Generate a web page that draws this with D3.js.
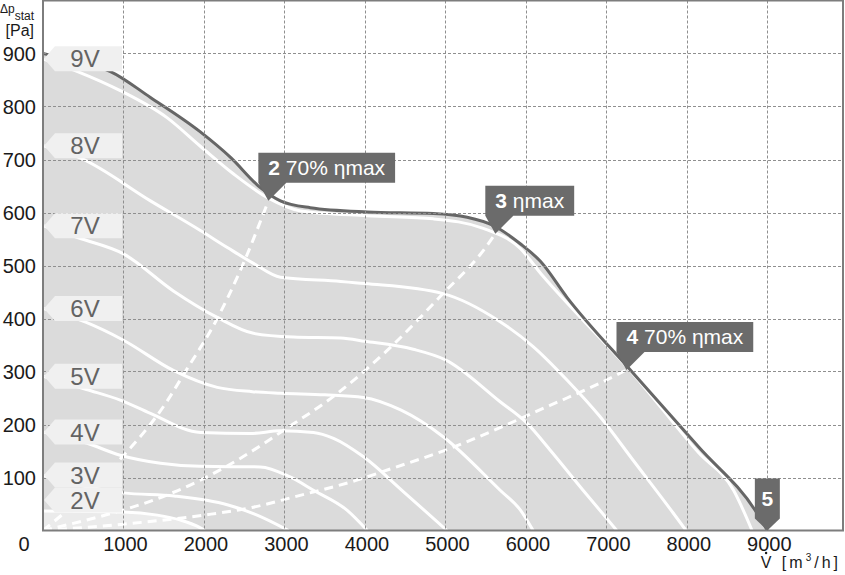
<!DOCTYPE html>
<html><head><meta charset="utf-8">
<script src="https://cdn.jsdelivr.net/npm/d3@7"></script>
<style>
html,body{margin:0;padding:0;background:#fff;}
svg{display:block;font-family:"Liberation Sans",Arial,sans-serif;}
</style></head><body>
<svg id="chart" width="845" height="575"></svg>
<script>
// ---------- data ----------
const xTicks = [1000,2000,3000,4000,5000,6000,7000,8000,9000];
const yTicks = [100,200,300,400,500,600,700,800,900];
const speedNames = ["9V","8V","7V","6V","5V","4V","3V","2V"];

const curve9V = [[0,890],[430,866],[960,830],[1540,779],[1955,725],[2365,673],[2790,628],[3200,603],[4030,594],[4850,588],[5470,570],[5930,532],[6200,482],[6630,410],[7290,303],[8150,146],[8580,76],[8810,0]];
const curve8V = [[0,726],[460,703],[1335,622],[1955,566],[2290,534],[2615,504],[2950,478],[3700,470],[4000,466],[4970,447],[5680,394],[6090,347],[6510,284],[6920,215],[7330,133],[7830,33],[7990,0]];
const curve7V = [[0,575],[465,551],[1000,522],[1620,452],[2165,402],[2615,372],[3110,365],[3700,363],[4000,357],[4600,342],[5000,322],[5680,243],[6010,203],[6300,152],[6710,76],[7130,0]];
const curve6V = [[0,419],[530,393],[1000,359],[1620,302],[2165,270],[2600,262],[2950,259],[3500,256],[3980,251],[4450,227],[4980,176],[5680,76],[5930,39],[6090,0]];
const curve5V = [[0,291],[540,266],[960,246],[1335,221],[1955,185],[2575,183],[2950,188],[3360,185],[3610,174],[3983,139],[4480,73],[5020,0]];
const curve4V = [[0,186],[540,165],[960,142],[1460,127],[1955,121],[2700,120],[3070,101],[3360,76],[3780,38],[4030,0]];
const curve3V = [[0,104],[500,84],[1000,71],[1630,65],[2300,48],[2660,29],[3050,0]];
const curve2V = [[0,37],[1000,35],[1420,29],[1700,20],[1955,5],[2010,0]];
const speedCurves = [curve9V,curve8V,curve7V,curve6V,curve5V,curve4V,curve3V,curve2V];

const envelope = [[0,900],[400,885],[838,866],[1335,817],[1955,752],[2330,704],[2700,647],[2950,622],[3320,609],[4030,601],[4850,598],[5270,591],[5600,575],[5930,541],[6180,508],[6510,440],[7320,299],[8150,157],[8870,33],[9000,0]];

const line70Left  = [[0,0],[450,58],[900,125],[1550,246],[1745,294],[2165,400],[2450,490],[2800,622]];
const lineMax     = [[0,0],[1000,39],[1330,55],[1955,95],[2450,136],[2990,189],[3660,259],[4320,346],[4970,447],[5470,528],[5620,560]];
const line70Right = [[0,0],[1000,12],[2000,29],[2615,44],[3110,63],[3900,95],[4315,116],[5060,155],[5680,194],[6090,222],[6510,250],[6920,278],[7250,303]];
const systemLines = [line70Left, lineMax, line70Right];

const calloutIds    = ["2","3","4","5"];
const calloutTexts  = [" 70% ηmax"," ηmax"," 70% ηmax",""];
const calloutPoints = [[2800,622],[5620,560],[7250,303],[9000,0]];

// ---------- chart ----------
const svg = d3.select("#chart");
const L = 43, R = 843, T = 0.5, B = 530.5;
const x = d3.scaleLinear().domain([0, 9940]).range([L, R]);
const y = d3.scaleLinear().domain([0, 1000]).range([B, T]);

svg.append("defs").append("clipPath").attr("id","plot")
  .append("rect").attr("x",L).attr("y",T).attr("width",R-L).attr("height",B-T);

const plot = svg.append("g").attr("clip-path","url(#plot)");

const area = d3.area().x(d=>x(d[0])).y0(y(0)).y1(d=>y(d[1])).curve(d3.curveMonotoneX);
const line = d3.line().x(d=>x(d[0])).y(d=>y(d[1])).curve(d3.curveMonotoneX);

// shaded operating range
plot.append("path").datum(envelope).attr("d",area).attr("fill","#dbdbdb");
// lighter region under the lowest speed
plot.append("path").datum(curve2V).attr("d",area).attr("fill","#ebebeb");

// grid
const grid = svg.append("g").attr("stroke","#8f8f8f").attr("stroke-width",1).attr("stroke-dasharray","3,2");
grid.selectAll("line.v").data(xTicks).join("line")
  .attr("x1",d=>Math.round(x(d))+0.5).attr("x2",d=>Math.round(x(d))+0.5)
  .attr("y1",T).attr("y2",B);
grid.selectAll("line.h").data(yTicks).join("line")
  .attr("y1",d=>Math.round(y(d))+0.5).attr("y2",d=>Math.round(y(d))+0.5)
  .attr("x1",L).attr("x2",R);

// speed curves
plot.selectAll("path.speed").data(speedCurves).join("path")
  .attr("class","speed").attr("d",line)
  .attr("fill","none").attr("stroke","#fff").attr("stroke-width",3);

// system (efficiency) lines
plot.selectAll("path.sys").data(systemLines).join("path")
  .attr("class","sys").attr("d",line)
  .attr("fill","none").attr("stroke","#fff").attr("stroke-width",3)
  .attr("stroke-dasharray","9,6");

// envelope line
plot.append("path").datum(envelope).attr("d",line)
  .attr("fill","none").attr("stroke","#666").attr("stroke-width",3);

// frame
svg.append("rect").attr("x",L).attr("y",T).attr("width",R-L).attr("height",B-T)
  .attr("fill","none").attr("stroke","#7d7d7d").attr("stroke-width",2);

// speed labels
const lh = 25;
let centers = speedCurves.map(c => y(c[0][1]));
const maxC = y(0) - 18 - lh/2;
for (let i = centers.length-1; i >= 0; i--) {
  let lim = (i === centers.length-1) ? maxC : centers[i+1] - lh;
  centers[i] = Math.min(centers[i], lim);
}
const lab = svg.append("g");
speedNames.forEach((n,i) => {
  const c = centers[i];
  lab.append("path")
    .attr("d",`M44,${c} L55,${c-lh/2} L122,${c-lh/2} L122,${c+lh/2} L55,${c+lh/2} Z`)
    .attr("fill","#f0f0f0");
  lab.append("text").attr("x",85).attr("y",c).attr("dy","0.36em")
    .attr("text-anchor","middle").attr("font-size",24).attr("fill","#636363").text(n);
});

// callouts
const cg = svg.append("g");
calloutIds.forEach((id,i) => {
  const px = x(calloutPoints[i][0]), py = y(calloutPoints[i][1]);
  const g = cg.append("g");
  if (calloutTexts[i] === "") {
    const w = 25, h = 40, bot = py - 12;
    g.append("path").attr("d",`M${px-w/2},${bot-h} L${px+w/2},${bot-h} L${px+w/2},${bot} L${px},${py} L${px-w/2},${bot} Z`).attr("fill","#6b6b6b");
    g.append("text").attr("x",px).attr("y",bot-h/2).attr("dy","0.36em").attr("text-anchor","middle")
      .attr("font-size",21).attr("font-weight","bold").attr("fill","#fff").text(id);
  } else {
    const left = px - 10, bot = py - 18, h = 30;
    const path = g.append("path").attr("fill","#6b6b6b");
    const t = g.append("text").attr("x",left+10).attr("y",bot-h/2).attr("dy","0.36em")
      .attr("font-size",21).attr("fill","#fff");
    t.append("tspan").attr("font-weight","bold").text(id);
    t.append("tspan").text(calloutTexts[i]);
    const w = t.node().getComputedTextLength() + 20;
    path.attr("d",`M${left},${bot-h} L${left+w},${bot-h} L${left+w},${bot} L${left+28},${bot} L${px},${py} L${left},${bot} Z`);
  }
});

// tick labels
const tl = svg.append("g").attr("font-size",20).attr("fill","#1a1a1a");
tl.selectAll("text.x").data(xTicks).join("text")
  .attr("x",d=>x(d)+2).attr("y",544).attr("dy","0.36em").attr("text-anchor","middle").text(d=>d);
tl.selectAll("text.y").data(yTicks).join("text")
  .attr("x",36).attr("y",d=>y(d)).attr("dy","0.36em").attr("text-anchor","end").text(d=>d);
tl.append("text").attr("x",24).attr("y",544).attr("dy","0.36em").attr("text-anchor","middle").text("0");

// axis titles
const yt = svg.append("g").attr("fill","#1a1a1a");
const t1 = yt.append("text").attr("x",34).attr("y",13).attr("text-anchor","end").attr("font-size",12);
t1.append("tspan").text("Δp");
t1.append("tspan").attr("dy",7).text("stat");
yt.append("text").attr("x",34).attr("y",36).attr("text-anchor","end").attr("font-size",16).text("[Pa]");

const xt = svg.append("text").attr("x",841).attr("y",568).attr("text-anchor","end")
  .attr("font-size",16).attr("fill","#1a1a1a").attr("letter-spacing",3);
xt.append("tspan").text("V [m");
xt.append("tspan").attr("font-size",10).attr("dy",-7).text("3");
xt.append("tspan").attr("dy",7).text("/h]");
// dot above the V (flow-rate symbol)
const n = xt.node();
const s = n.getStartPositionOfChar(0).x, e = n.getEndPositionOfChar(0).x;
svg.append("circle").attr("cx",(s+e)/2 - 1.5).attr("cy",553).attr("r",1.2).attr("fill","#1a1a1a");
</script>
</body></html>
